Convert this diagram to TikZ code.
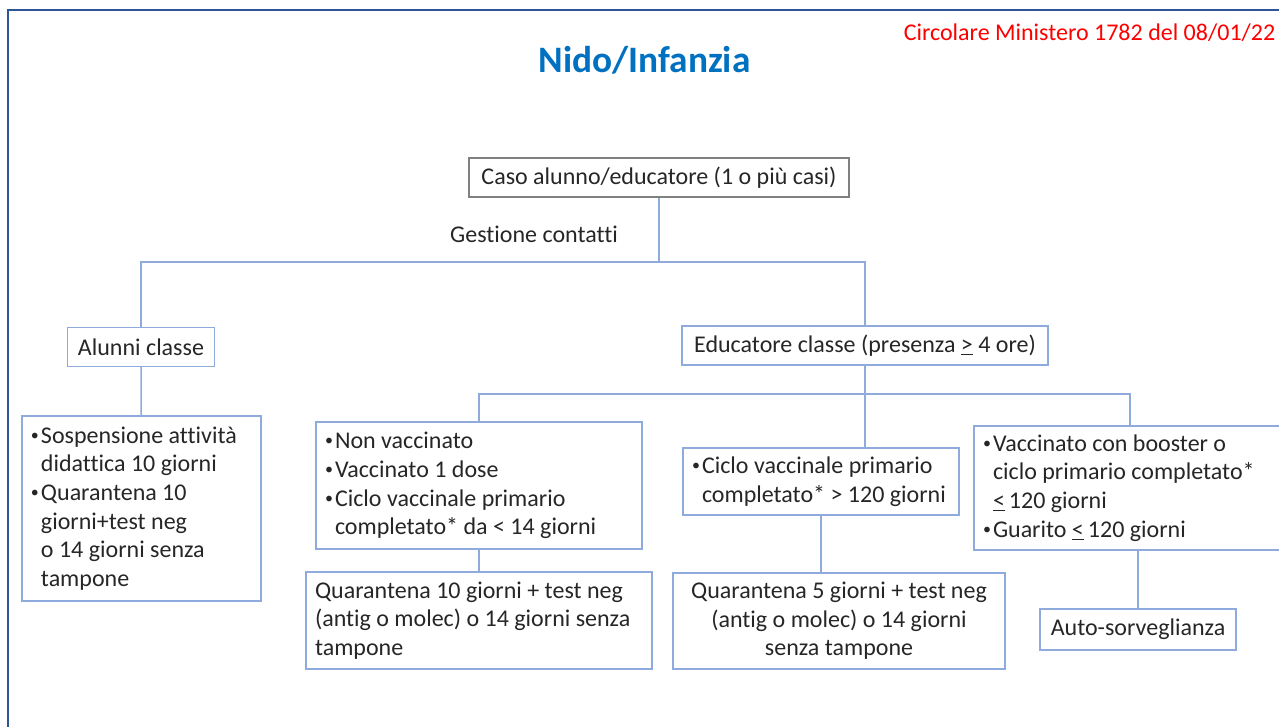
\documentclass[tikz,border=0pt]{standalone}
\usepackage{fontspec}
\setmainfont{Carlito}[Ligatures=NoCommon]
\definecolor{boxblue}{RGB}{143,170,220}
\definecolor{frameblue}{RGB}{47,85,151}
\definecolor{titleblue}{RGB}{0,112,192}
\definecolor{ink}{RGB}{38,38,38}
\newcommand\bl[1]{\noindent\hangindent=7.5pt\hangafter=1\makebox[7.5pt][l]{\raisebox{0.12em}{\fontsize{12}{12}\selectfont•}}#1\par}

\begin{document}
\begin{tikzpicture}[x=0.75pt,y=-0.75pt,
	txt/.style={text=ink,font={\fontsize{18}{21.5}\selectfont}},
	box/.style={txt,draw=boxblue,line width=1.1pt,inner xsep=6.75pt,inner ysep=0pt},
	para/.style={execute at begin node={\spaceskip=0pt\xspaceskip=0pt\relax}},
	link/.style={draw=boxblue,line width=1.1pt}]
	\useasboundingbox (0,0) rectangle (1279,727);
	\draw [draw=frameblue,line width=1.5pt] (8,727) |- (1279,10);
	\node [font={\fontsize{28}{32}\selectfont\bfseries},text=titleblue] (title) at (644.5,60) {Nido/Infanzia};
	\node [font={\fontsize{18}{20}\selectfont},text=red,anchor=east] (circ) at (1280,33) {Circolare Ministero 1782 del 08/01/22};
	\node [box,draw=gray,minimum width=285pt,minimum height=29.25pt] (caso) at (659,177.5) {Caso alunno/educatore (1 o più casi)};
	\node [txt] (gest) at (534,234) {Gestione contatti};
	\node [box,minimum width=110.25pt,minimum height=29.25pt] (alunni) at (141,347) {Alunni classe};
	\node [box,minimum width=274.5pt,minimum height=29.25pt] (educ) at (865,345.5) {Educatore classe (presenza \underline{>} 4 ore)};
	\node [box,para,text width=165.75pt,minimum height=138.75pt,align=flush left] (sosp) at (141.5,508.5) {\bl{Sospensione attività\newline didattica 10 giorni}\bl{Quarantena 10\newline giorni+test neg\newline o 14 giorni senza\newline tampone}};
	\node [box,para,text width=231pt,minimum height=95.25pt,align=flush left] (nonvacc) at (479,485.5) {\bl{Non vaccinato}\bl{Vaccinato 1 dose}\bl{Ciclo vaccinale primario\newline completato* da < 14 giorni}};
	\node [box,para,text width=193.5pt,minimum height=50.25pt,align=flush left] (ciclo) at (821,481.5) {\bl{Ciclo vaccinale primario\newline completato* > 120 giorni}};
	\node [box,para,text width=220.5pt,minimum height=93pt,align=flush left] (booster) at (1130,488) {\bl{Vaccinato con booster o\newline ciclo primario completato*\newline \underline{<}\,120 giorni}\bl{Guarito \underline{<}\,120 giorni}};
	\node [box,para,text width=246pt,minimum height=72.75pt,align=flush left] (q10) at (479,620.5) {Quarantena 10 giorni + test neg\\(antig o molec) o 14 giorni senza\\tampone};
	\node [box,para,text width=235.5pt,minimum height=72pt,align=flush center] (q5) at (839,621) {Quarantena 5 giorni + test neg\\(antig o molec) o 14 giorni\\senza tampone};
	\node [box,minimum width=147pt,minimum height=30.75pt] (auto) at (1138,629.5) {Auto-sorveglianza};
	\coordinate (forkA) at (659,262);
	\coordinate (forkB) at (865,394);
	\draw [link] (caso) -- (forkA);
	\draw [link] (forkA) -| (alunni);
	\draw [link] (forkA) -| (educ);
	\draw [link] (alunni) -- (sosp);
	\draw [link] (educ) -- (forkB);
	\draw [link] (forkB) -| (nonvacc);
	\draw [link] (forkB) -| (booster);
	\draw [link] (forkB) -- (forkB |- ciclo.north);
	\draw [link] (nonvacc) -- (q10);
	\draw [link] (ciclo.south) -- (ciclo.south |- q5.north);
	\draw [link] (auto.north) -- (auto.north |- booster.south);
\end{tikzpicture}
\end{document}
